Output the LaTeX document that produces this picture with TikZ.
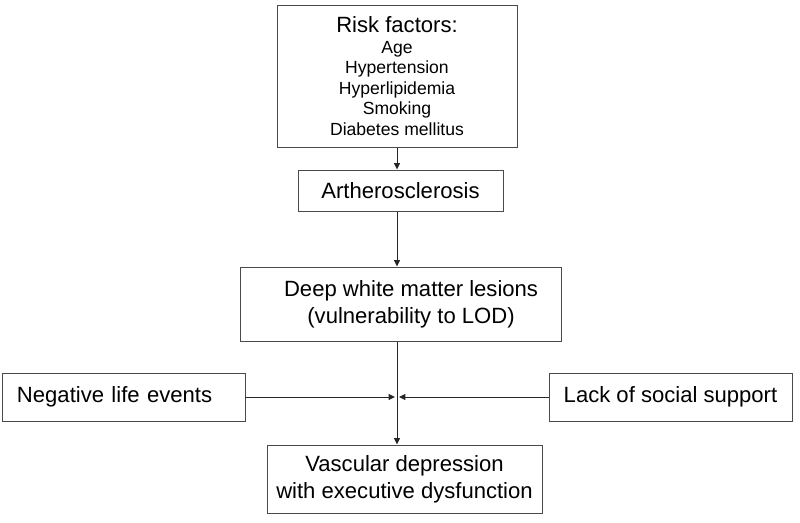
\documentclass[tikz,border=0pt]{standalone}
\usepackage{fontspec}
\setmainfont{Liberation Sans}
\usetikzlibrary{arrows.meta}
\definecolor{myboxcolor}{HTML}{4a4a4a}

\begin{document}
\begin{tikzpicture}[x=0.025cm, y=-0.025cm,
  factorbox/.style={draw=myboxcolor, line width=0.7pt, rectangle, inner sep=0pt, align=center, font=\fontsize{15.7pt}{19pt}\selectfont},
  flowarrow/.style={draw=black!85, line width=0.7pt, -{Triangle[length=1.6mm, width=1.5mm]}}]%
\useasboundingbox (0, 0) rectangle (800, 522);%
\node[factorbox, minimum width=240*0.025cm, minimum height=142*0.025cm] (risk) at (397, 76) {Risk factors:\\[-4pt] \parbox[t]{5.5cm}{\centering\fontsize{12.5pt}{14.6pt}\selectfont Age\\ Hypertension\\ Hyperlipidemia\\ Smoking\\ Diabetes mellitus}};%
\node[factorbox, minimum width=205*0.025cm, minimum height=41*0.025cm] (ather) at (400.5, 190.5) {Artherosclerosis};%
\node[factorbox, minimum width=321*0.025cm, minimum height=74*0.025cm] (deep) at (400.5, 304) {\hspace*{15pt}Deep white matter lesions\\ \hspace*{15pt}(vulnerability to LOD)};%
\node[factorbox, minimum width=243*0.025cm, minimum height=48*0.025cm, text width=213*0.025cm, align=left] (neg) at (123.5, 397) {Negative life events};%
\node[factorbox, minimum width=243*0.025cm, minimum height=48*0.025cm] (lack) at (670.5, 397) {Lack of social support};%
\node[factorbox, minimum width=275*0.025cm, minimum height=68*0.025cm] (vasc) at (404.5, 479) {Vascular depression\\ with executive dysfunction};%
\coordinate (jleft) at (395, 397);%
\coordinate (jright) at (399, 397);%
\draw[flowarrow] (risk.south) -- (risk.south |- ather.north);%
\draw[flowarrow] (ather.south -| risk.south) -- (deep.north -| risk.south);%
\draw[flowarrow] (deep.south -| risk.south) -- (vasc.north -| risk.south);%
\draw[flowarrow] (neg.east) -- (jleft);%
\draw[flowarrow] (lack.west) -- (jright);%
\end{tikzpicture}
\end{document}
